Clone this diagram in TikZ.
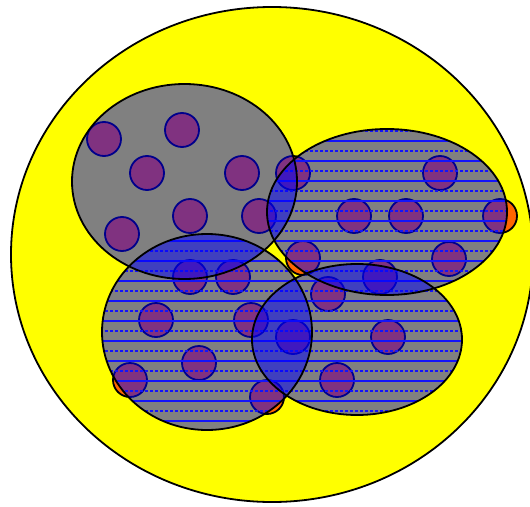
\documentclass[tikz,border=0pt]{standalone}
\definecolor{yel}{RGB}{255,255,0}
\definecolor{grayfill}{RGB}{128,128,128}
\definecolor{orng}{RGB}{255,102,0}
\definecolor{purp}{RGB}{128,50,128}
\definecolor{navy}{RGB}{0,0,140}
\definecolor{lineblue}{RGB}{20,20,250}
\definecolor{ovblue}{RGB}{0,0,255}
\tikzset{
  bigline/.style={line width=1.8pt, draw=black},
  elem/.style={line width=1.8pt},
  solidhl/.style={draw=lineblue, line width=1.05pt},
  dashhl/.style={draw=lineblue, line width=1.05pt, dash pattern=on 3pt off 2pt},
}
\def\pY{(272,254.5) ellipse [x radius=261pt, y radius=247.5pt]}
\def\pTL{(184.5,181.5) ellipse [x radius=112.5pt, y radius=97.5pt]}
\def\pR{(387,212) ellipse [x radius=120pt, y radius=83pt]}
\def\pBL{(207,332) ellipse [x radius=105pt, y radius=98pt]}
\def\pBR{(357,339.5) ellipse [x radius=105pt, y radius=75.5pt]}
\def\circlist{104/139,182/130,147/173,242/173,190/216,122/234,259/216,293/173,440/173,354/216,406/216,500/216,303/258,449/259,380/277,190/277,233/277,156/320,251/320,199/363,130/380,267/397,293/337,328/294,388/337,337/380}
\newcommand{\hlines}{%
  \foreach \yy in {121,141,...,441} {\path[solidhl] (0,\yy) -- (530,\yy);}
  \foreach \yy in {131,151,...,431} {\path[dashhl] (0,\yy) -- (530,\yy);}
}
\begin{document}
\begin{tikzpicture}[x=1pt,y=-1pt]
\useasboundingbox (0,0) rectangle (530,506);
\clip (0,0) rectangle (530,506);
% big yellow ellipse
\fill[yel] \pY;
\draw[bigline] \pY;
% orange circles underneath
\foreach \cx/\cy in \circlist {
  \filldraw[elem, fill=orng, draw=black] (\cx,\cy) circle [radius=17pt];
}
% gray ellipses
\fill[grayfill] \pTL;
\fill[grayfill] \pR;
\fill[grayfill] \pBL;
\fill[grayfill] \pBR;
% purple circles clipped to union of ellipses
\begin{scope}
  \clip \pTL \pR \pBL \pBR;
  \foreach \cx/\cy in \circlist {
    \filldraw[elem, fill=purp, draw=navy] (\cx,\cy) circle [radius=17pt];
  }
\end{scope}
% horizontal blue lines
\begin{scope}\clip \pR; \hlines \end{scope}
\begin{scope}\clip \pBL; \hlines \end{scope}
\begin{scope}\clip \pBR; \hlines \end{scope}
% blue intersections
\begin{scope}\clip \pTL; \fill[ovblue, opacity=0.5] \pR; \end{scope}
\begin{scope}\clip \pTL; \fill[ovblue, opacity=0.5] \pBL; \end{scope}
\begin{scope}\clip \pBL; \fill[ovblue, opacity=0.5] \pBR; \end{scope}
\begin{scope}\clip \pR; \fill[ovblue, opacity=0.5] \pBR; \end{scope}
% ellipse borders
\draw[bigline] \pTL;
\draw[bigline] \pR;
\draw[bigline] \pBL;
\draw[bigline] \pBR;
\end{tikzpicture}
\end{document}
